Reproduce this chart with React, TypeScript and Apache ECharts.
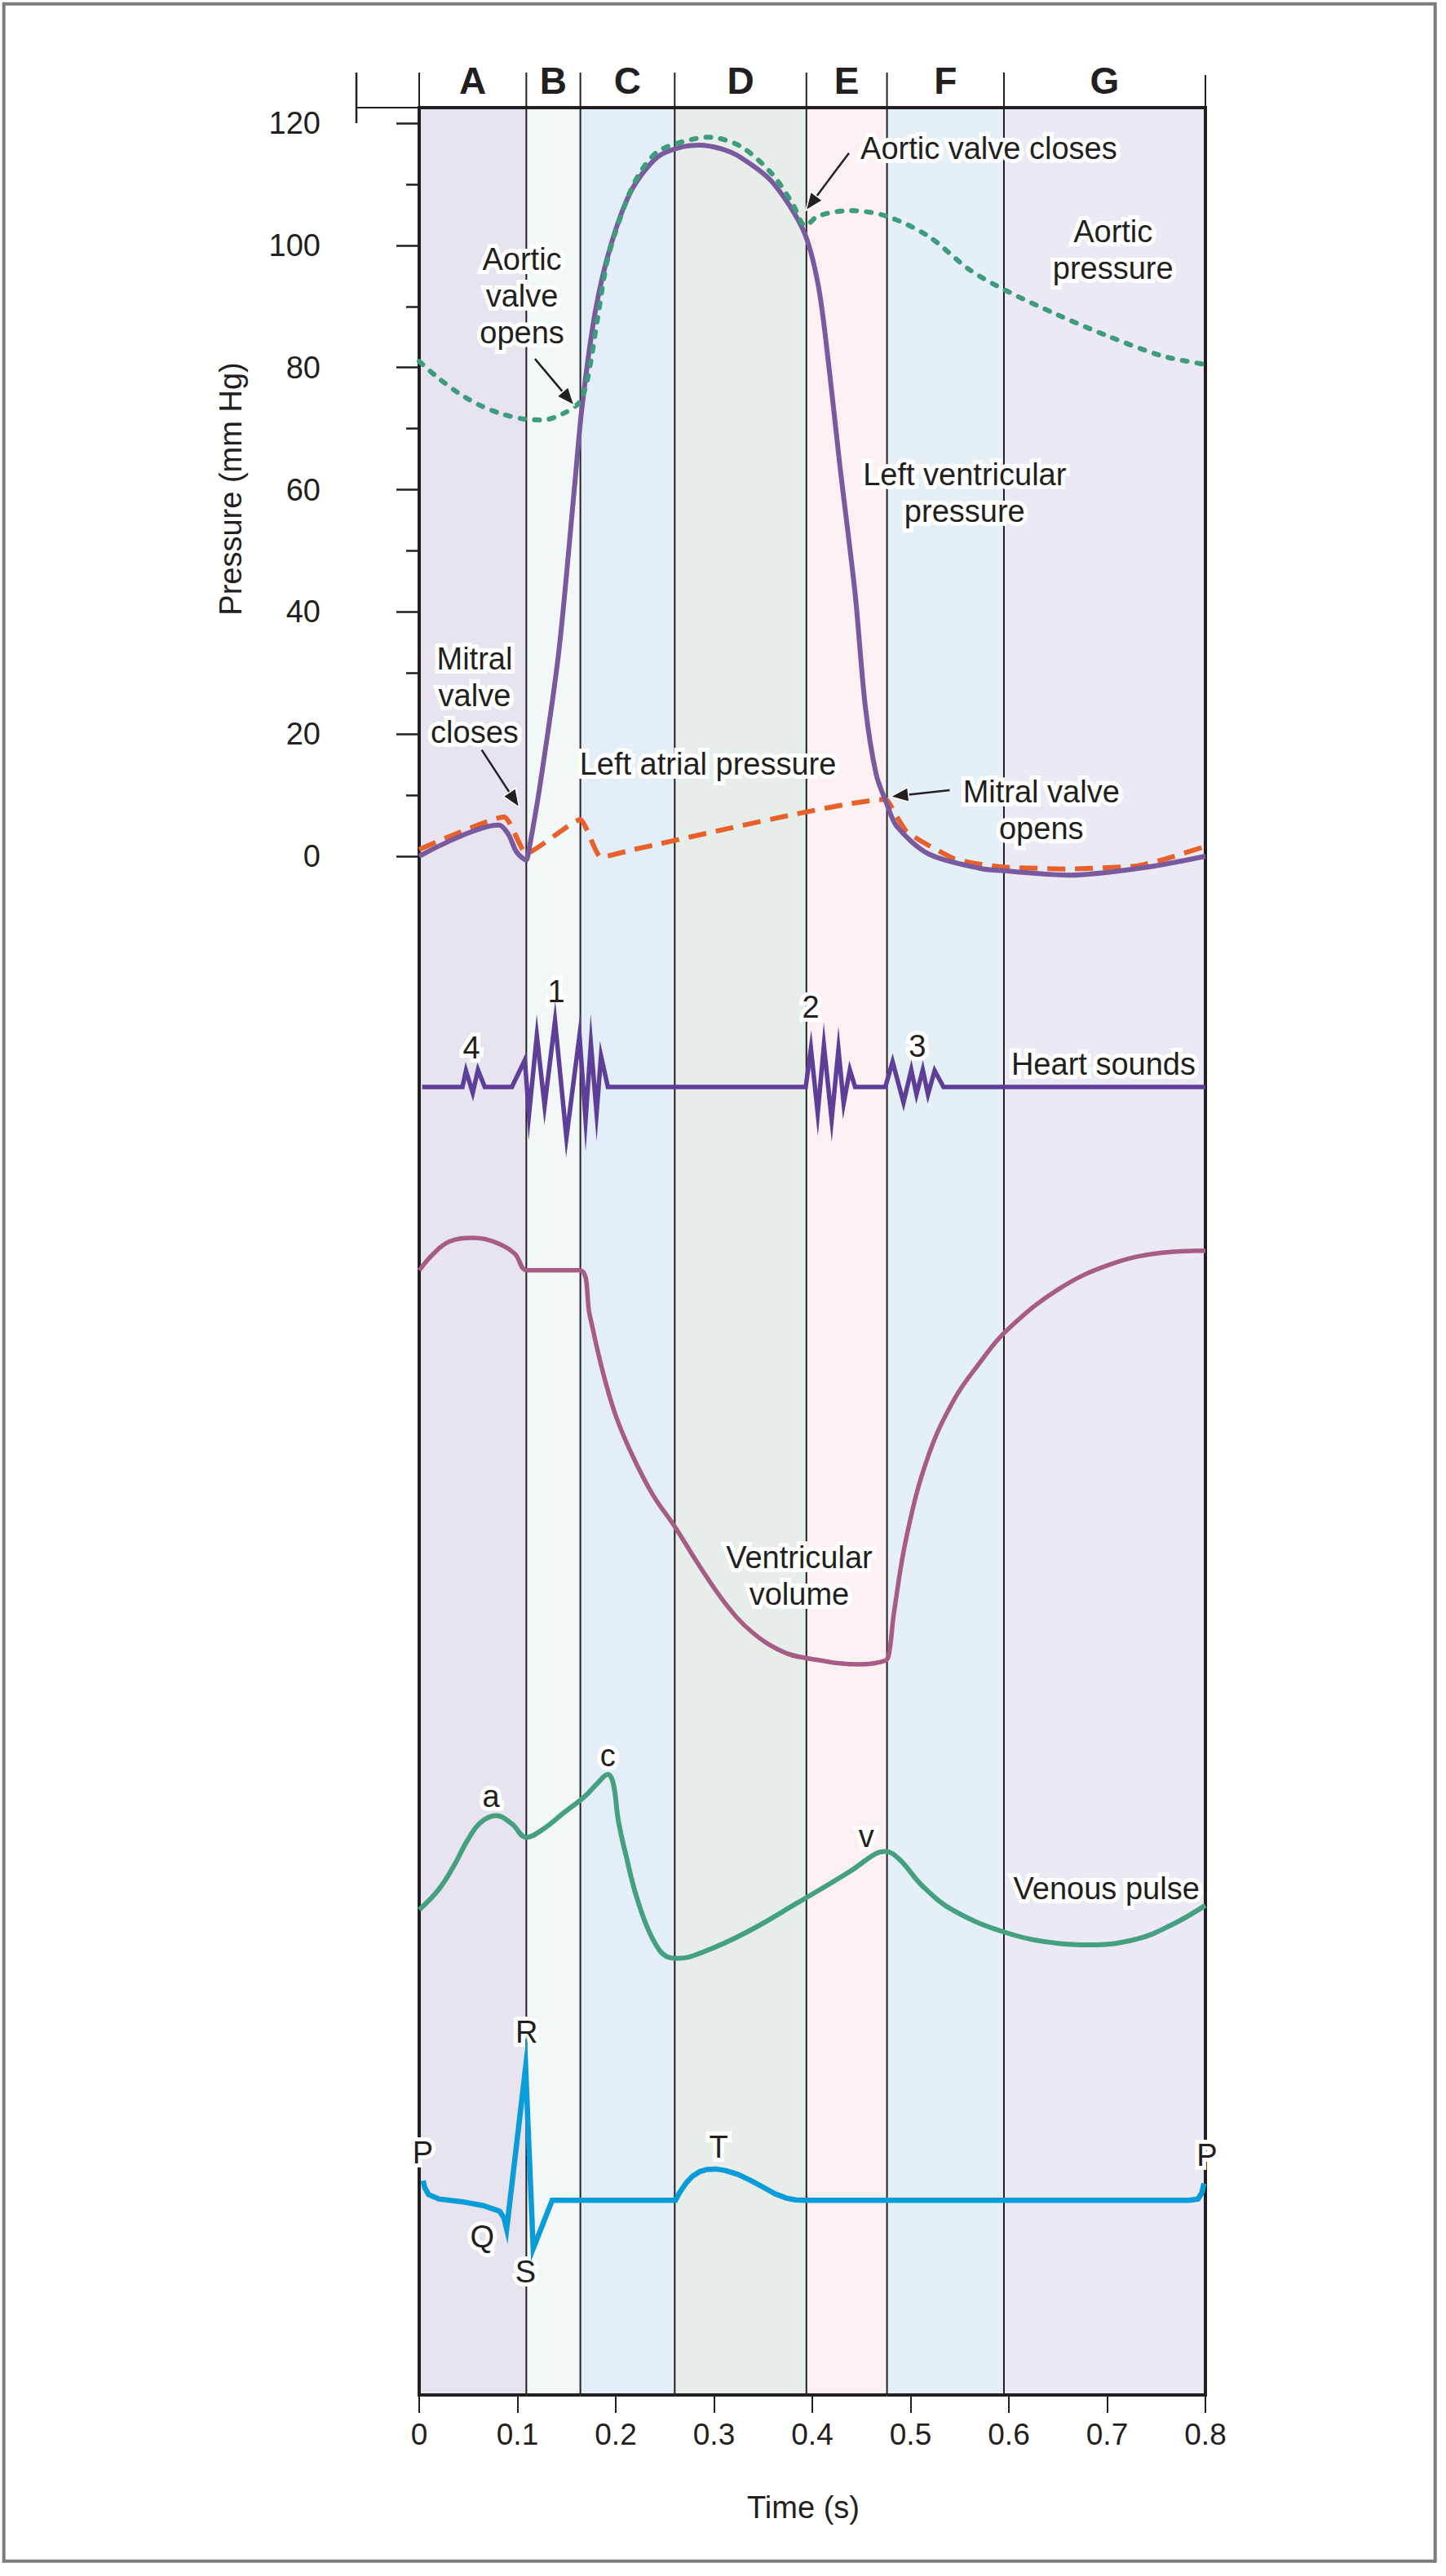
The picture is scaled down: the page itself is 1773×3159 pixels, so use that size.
import React, { useEffect, useRef } from "react";
import * as echarts from "echarts";

// ---------------- data ----------------
const phases = ["A", "B", "C", "D", "E", "F", "G"];
const phaseBounds = [0, 0.109, 0.164, 0.26, 0.394, 0.476, 0.595, 0.8];
const phaseColors = ["#E7E3EF", "#F2F7F7", "#E4EEF8", "#E7EEEA", "#FBF1F3", "#E4F0F5", "#EAE9F4"];

// pressures in mm Hg, time in s
const aorticPressure: number[][] = [
  [0, 81], [0.02, 78.2], [0.041, 75.7], [0.062, 73.8], [0.084, 72.4], [0.105, 71.6], [0.126, 71.4],
  [0.147, 72.5], [0.163, 74.3], [0.171, 77.9], [0.1816, 88.1], [0.192, 97.9], [0.2107, 107.2],
  [0.2239, 111.7], [0.2424, 115.3], [0.269, 117], [0.295, 117.7], [0.327, 116.2], [0.359, 111.7],
  [0.38, 106.8], [0.393, 103.2], [0.406, 104.8], [0.438, 105.7], [0.475, 104.8], [0.518, 101.5],
  [0.56, 96], [0.597, 92.6], [0.65, 88.6], [0.703, 85], [0.756, 81.9], [0.8, 80.5],
];
const leftVentricularPressure: number[][] = [
  [0, 0], [0.081, 5.1], [0.0907, 3.6], [0.099, 0.7], [0.1087, -0.6], [0.1115, 0.9], [0.1233, 12],
  [0.142, 33.4], [0.1578, 60], [0.1656, 73.4], [0.179, 89], [0.195, 100], [0.216, 109], [0.242, 114.4],
  [0.265, 116], [0.285, 116.4], [0.307, 115.8], [0.327, 114.4], [0.359, 110.4], [0.391, 102.4],
  [0.406, 93.5], [0.417, 80], [0.428, 64], [0.436, 53.4], [0.444, 42.3], [0.454, 24.4], [0.465, 13.4],
  [0.475, 8.9], [0.486, 4.9], [0.518, 0.4], [0.571, -2], [0.597, -2.4], [0.661, -3.1], [0.74, -1.8],
  [0.8, 0],
];
const leftAtrialPressure: number[][] = [
  [0, 1.1], [0.0866, 6.45], [0.109, 0.45], [0.164, 6], [0.1848, -0.2], [0.218, 1.1], [0.475, 9.3],
  [0.484, 7], [0.496, 4], [0.518, 1.8], [0.544, -0.4], [0.5705, -1.3], [0.597, -1.8], [0.661, -2.1],
  [0.73, -1.6], [0.756, -0.6], [0.8, 1.6],
];
// heart sound amplitude (relative units)
const heartSounds: number[][] = [
  [0.003, 0], [0.044, 0], [0.0476, 20], [0.0545, -7], [0.0598, 21], [0.0667, 0], [0.0943, 0],
  [0.1075, 33], [0.1117, -34], [0.1197, 63], [0.1276, -23], [0.1382, 81], [0.1498, -62], [0.1631, 63],
  [0.1693, -40], [0.1747, 53], [0.1805, -32], [0.185, 38], [0.192, 0], [0.3933, 0], [0.3986, 47],
  [0.4055, -32], [0.4118, 51], [0.4197, -40], [0.4266, 46], [0.4319, -20], [0.4382, 21], [0.4436, 0],
  [0.4743, 0], [0.4817, 31], [0.4928, -19], [0.5007, 21], [0.506, -9], [0.5124, 21], [0.5177, -9],
  [0.5245, 20], [0.5335, 0], [0.8, 0],
];
// ventricular volume (mL)
const ventricularVolume: number[][] = [
  [0, 123.9], [0.0149, 127.1], [0.0307, 129.3], [0.0545, 130], [0.0783, 129.1], [0.0969, 127.1],
  [0.11, 123.9], [0.163, 123.9], [0.1736, 115.4], [0.1869, 104.8], [0.2001, 96.6], [0.2159, 89.6],
  [0.2371, 82], [0.2609, 75.6], [0.2847, 68.6], [0.3112, 61.5], [0.3377, 56.2], [0.3695, 52.4],
  [0.3933, 51.2], [0.4488, 50], [0.4743, 50.7], [0.478, 51.9], [0.4832, 59.8], [0.4964, 74.4],
  [0.5177, 88.9], [0.5441, 99.6], [0.5705, 106.6], [0.597, 112.5], [0.65, 120.3], [0.703, 125],
  [0.7558, 127.2], [0.8, 127.6],
];
// venous pulse (relative units)
const venousPulse: number[][] = [
  [0, 3.9], [0.0202, 5.17], [0.036, 6.67], [0.0492, 8.17], [0.0625, 9.25], [0.0783, 9.67],
  [0.0943, 9.17], [0.109, 8.34], [0.126, 8.84], [0.147, 9.84], [0.1683, 10.84], [0.1816, 11.67],
  [0.192, 12.2], [0.1974, 11.67], [0.2027, 9.34], [0.2107, 7.17], [0.2213, 4.67], [0.2371, 2.17],
  [0.253, 1.0], [0.2636, 0.92], [0.29, 1.34], [0.3324, 2.5], [0.3853, 4.34], [0.4382, 6.25],
  [0.4647, 7.34], [0.4743, 7.47], [0.4885, 7.0], [0.5124, 5.34], [0.5441, 3.84], [0.597, 2.5],
  [0.65, 1.84], [0.6817, 1.75], [0.7294, 2.09], [0.7664, 3.0], [0.8, 4.17],
];
// ECG (mV)
const ecg: number[][] = [
  [0.004, 0.15], [0.0055, 0.1], [0.0095, 0.045], [0.02, 0.01], [0.043, -0.01], [0.065, -0.04],
  [0.0819, -0.084], [0.0863, -0.136], [0.089, -0.22], [0.1083, 1.02], [0.116, -0.37], [0.1353, 0],
  [0.2607, 0], [0.265, 0.06], [0.2718, 0.135], [0.278, 0.185], [0.2855, 0.22], [0.293, 0.237],
  [0.302, 0.24], [0.312, 0.228], [0.324, 0.2], [0.338, 0.15], [0.3516, 0.094], [0.362, 0.05],
  [0.3736, 0.017], [0.383, 0.004], [0.393, 0], [0.7837, 0], [0.7925, 0.01], [0.7965, 0.06],
  [0.7985, 0.13],
];

// annotation anchors: [gridIndex, time, value, text, align]
const annotations: [number, number, number, string, string][] = [
  [1, 0.449, 115.8, "Aortic valve closes", "left"],
  [1, 0.1046, 91.7, "Aortic\nvalve\nopens", "center"],
  [1, 0.706, 99.3, "Aortic\npressure", "center"],
  [1, 0.555, 59.4, "Left ventricular\npressure", "center"],
  [1, 0.0564, 26.3, "Mitral\nvalve\ncloses", "center"],
  [1, 0.2938, 15.1, "Left atrial pressure", "center"],
  [1, 0.633, 7.5, "Mitral valve\nopens", "center"],
  [2, 0.0531, 48, "4", "center"],
  [2, 0.1394, 117, "1", "center"],
  [2, 0.3983, 98, "2", "center"],
  [2, 0.507, 50, "3", "center"],
  [2, 0.79, 28, "Heart sounds", "right"],
  [3, 0.3867, 66.6, "Ventricular\nvolume", "center"],
  [4, 0.073, 10.85, "a", "center"],
  [4, 0.192, 13.35, "c", "center"],
  [4, 0.455, 8.4, "v", "center"],
  [4, 0.794, 5.2, "Venous pulse", "right"],
  [5, 0.0037, 0.364, "P", "center"],
  [5, 0.8017, 0.348, "P", "center"],
  [5, 0.1094, 1.29, "R", "center"],
  [5, 0.0642, -0.28, "Q", "center"],
  [5, 0.1083, -0.55, "S", "center"],
  [5, 0.3046, 0.408, "T", "center"],
];
// arrows in pressure coordinates: [fromT, fromP, toT, toP]
const arrows: number[][] = [
  [0.4373, 115.1, 0.3934, 105.7],
  [0.1178, 81.4, 0.1577, 73.8],
  [0.0636, 17.4, 0.1018, 8.0],
  [0.5398, 10.8, 0.4797, 9.75],
];

// ---------------- layout ----------------
const W = 1773;
const H = 3159;
const PLOT_L = 514;
const PLOT_W = 964;
const FRAME_T = 132;
const FRAME_H = 2805;
const AXIS_X = 437;
const INK = "#231F20";
const FONT = '"Liberation Sans", Arial, Helvetica, sans-serif';
const panels = [
  { top: FRAME_T, height: FRAME_H, min: 0, max: 1 },
  { top: 151, height: 899, min: 0, max: 120 },
  { top: 1233, height: 200, min: -100, max: 100 },
  { top: 1452.6, height: 653.8, min: 40, max: 140 },
  { top: 2100, height: 320, min: 0, max: 16 },
  { top: 2458.3, height: 400, min: -1, max: 1.5 },
];

function buildOption(): any {
  const grids = panels.map((p) => ({
    left: PLOT_L,
    width: PLOT_W,
    top: p.top,
    height: p.height,
    outerBoundsMode: "none",
    containLabel: false,
  }));
  const xAxes = panels.map((_, i) => ({
    type: "value",
    gridIndex: i,
    min: 0,
    max: 0.8,
    interval: 0.1,
    show: i === 0,
    position: "bottom",
    axisLine: { show: false },
    axisTick: { show: true, length: 22, inside: false, lineStyle: { color: INK, width: 2 } },
    axisLabel: {
      show: true,
      fontSize: 37,
      fontFamily: FONT,
      color: INK,
      margin: 30,
      showMinLabel: true,
      showMaxLabel: true,
    },
    splitLine: { show: false },
  }));
  const yAxes = panels.map((p, i) =>
    i === 1
      ? {
          type: "value",
          gridIndex: i,
          min: p.min,
          max: p.max,
          interval: 20,
          position: "left",
          offset: PLOT_L - AXIS_X,
          axisLine: { show: true, lineStyle: { color: INK, width: 2.5 } },
          axisTick: { show: true, length: 28, lineStyle: { color: INK, width: 2.5 } },
          minorTick: { show: true, splitNumber: 2, length: 16, lineStyle: { color: INK, width: 2.5 } },
          axisLabel: { fontSize: 38, fontFamily: FONT, color: INK, margin: 44 },
          splitLine: { show: false },
          minorSplitLine: { show: false },
        }
      : { type: "value", gridIndex: i, min: p.min, max: p.max, show: false, splitLine: { show: false } }
  );

  const bandData = phases.map((_, i) => [phaseBounds[i], phaseBounds[i + 1], i]);
  const last = phases.length - 1;

  const line = (
    g: number,
    data: number[][],
    color: string,
    width: number,
    z: number,
    smooth: number | boolean,
    type: any = "solid",
    cap = "butt"
  ) => ({
    type: "line",
    xAxisIndex: g,
    yAxisIndex: g,
    data,
    showSymbol: false,
    symbol: "none",
    smooth,
    z,
    clip: false,
    lineStyle: { color, width, type, cap, join: "miter", miterLimit: 20 },
    emphasis: { disabled: true },
  });

  return {
    animation: false,
    backgroundColor: "#ffffff",
    grid: grids,
    xAxis: xAxes,
    yAxis: yAxes,
    series: [
      {
        type: "custom",
        xAxisIndex: 0,
        yAxisIndex: 0,
        z: 0,
        clip: false,
        silent: true,
        data: bandData,
        encode: { x: [0, 1] },
        renderItem: (params: any, api: any) => {
          const s = api.value(0);
          const e = api.value(1);
          const i = api.value(2);
          const tl = api.coord([s, 1]);
          const br = api.coord([e, 0]);
          const children: any[] = [
            {
              type: "rect",
              shape: { x: tl[0], y: tl[1], width: br[0] - tl[0], height: br[1] - tl[1] },
              style: { fill: phaseColors[i] },
            },
            {
              type: "line",
              shape: { x1: tl[0], y1: tl[1] - 43, x2: tl[0], y2: tl[1] },
              style: { stroke: INK, lineWidth: 2 },
            },
            {
              type: "text",
              style: {
                text: phases[i],
                x: (tl[0] + br[0]) / 2,
                y: tl[1] - 33,
                align: "center",
                verticalAlign: "middle",
                fontSize: 46,
                fontWeight: "bold",
                fontFamily: FONT,
                fill: INK,
              },
            },
            {
              type: "line",
              shape: { x1: tl[0], y1: tl[1], x2: br[0], y2: tl[1] },
              style: { stroke: INK, lineWidth: 4 },
            },
            {
              type: "line",
              shape: { x1: tl[0], y1: br[1], x2: br[0], y2: br[1] },
              style: { stroke: INK, lineWidth: 4 },
            },
          ];
          if (i > 0) {
            children.push({
              type: "line",
              shape: { x1: tl[0], y1: tl[1], x2: tl[0], y2: br[1] },
              style: { stroke: INK, lineWidth: 2 },
            });
          } else {
            children.push({
              type: "line",
              shape: { x1: tl[0], y1: tl[1] - 2, x2: tl[0], y2: br[1] + 2 },
              style: { stroke: INK, lineWidth: 4 },
            });
          }
          if (i === last) {
            children.push({
              type: "line",
              shape: { x1: br[0], y1: tl[1] - 2, x2: br[0], y2: br[1] + 2 },
              style: { stroke: INK, lineWidth: 4 },
            });
            children.push({
              type: "line",
              shape: { x1: br[0], y1: tl[1] - 40, x2: br[0], y2: tl[1] },
              style: { stroke: INK, lineWidth: 2 },
            });
          }
          return { type: "group", children };
        },
      },
      line(1, leftAtrialPressure, "#E8602A", 6, 3, 0.15, [22, 12], "butt"),
      line(1, leftVentricularPressure, "#7A5A9F", 6, 4, 0.3),
      line(1, aorticPressure, "#3E9C7C", 6, 5, 0.3, [6, 12], "round"),
      line(2, heartSounds, "#5E3E97", 5.5, 3, false),
      line(3, ventricularVolume, "#A65C85", 5.5, 3, 0.4),
      line(4, venousPulse, "#45A07F", 6, 3, 0.4),
      line(5, ecg, "#0A9CD8", 6.5, 3, false),
    ],
  };
}

function buildGraphics(chart: any): any[] {
  const els: any[] = [];
  // outer gray border
  els.push({
    type: "rect",
    z: 30,
    shape: { x: 4.7, y: 4.7, width: 1755, height: 3136 },
    style: { fill: "none", stroke: "#7B7B7B", lineWidth: 4 },
  });
  // y-axis extension and header base
  const yTop = chart.convertToPixel({ gridIndex: 1 }, [0, 120])[1];
  els.push({
    type: "line",
    z: 6,
    shape: { x1: AXIS_X, y1: FRAME_T - 43, x2: AXIS_X, y2: yTop },
    style: { stroke: INK, lineWidth: 2.5 },
  });
  els.push({
    type: "line",
    z: 6,
    shape: { x1: AXIS_X, y1: FRAME_T, x2: PLOT_L, y2: FRAME_T },
    style: { stroke: INK, lineWidth: 2 },
  });
  // axis titles
  const mid = chart.convertToPixel({ gridIndex: 1 }, [0, 60]);
  els.push({
    type: "text",
    z: 20,
    x: 283,
    y: mid[1] - 1,
    rotation: Math.PI / 2,
    style: {
      text: "Pressure (mm Hg)",
      align: "center",
      verticalAlign: "middle",
      fontSize: 38,
      fontFamily: FONT,
      fill: INK,
    },
  });
  els.push({
    type: "text",
    z: 20,
    style: {
      text: "Time (s)",
      x: 985,
      y: 3075,
      align: "center",
      verticalAlign: "middle",
      fontSize: 38,
      fontFamily: FONT,
      fill: INK,
    },
  });
  // annotations
  annotations.forEach(([g, t, v, text, align]) => {
    const [x, y] = chart.convertToPixel({ gridIndex: g }, [t, v]);
    const base = {
      text,
      x,
      y,
      align,
      verticalAlign: "middle",
      fontSize: 38,
      fontFamily: FONT,
      lineHeight: 45,
    };
    els.push({
      type: "text",
      z: 1,
      silent: true,
      style: { ...base, fill: "#ffffff", stroke: "#ffffff", lineWidth: 10, lineJoin: "round" },
    });
    els.push({ type: "text", z: 20, silent: true, style: { ...base, fill: INK } });
  });
  // arrows
  arrows.forEach(([t1, p1, t2, p2]) => {
    const a = chart.convertToPixel({ gridIndex: 1 }, [t1, p1]);
    const b = chart.convertToPixel({ gridIndex: 1 }, [t2, p2]);
    const dx = b[0] - a[0];
    const dy = b[1] - a[1];
    const len = Math.sqrt(dx * dx + dy * dy);
    const ux = dx / len;
    const uy = dy / len;
    const L = 22;
    const hw = 9;
    const bx = b[0] - ux * L;
    const by = b[1] - uy * L;
    els.push({
      type: "line",
      z: 20,
      shape: { x1: a[0], y1: a[1], x2: bx + ux * 2, y2: by + uy * 2 },
      style: { stroke: INK, lineWidth: 2.5 },
    });
    els.push({
      type: "polygon",
      z: 20,
      shape: {
        points: [
          [b[0], b[1]],
          [bx - uy * hw, by + ux * hw],
          [bx + uy * hw, by - ux * hw],
        ],
      },
      style: { fill: INK, stroke: "#ffffff", lineWidth: 1.5 },
    });
  });
  return els;
}

export default function App() {
  const ref = useRef<HTMLDivElement>(null);
  useEffect(() => {
    if (!ref.current) return;
    const chart = echarts.init(ref.current, null, { renderer: "svg" });
    chart.setOption(buildOption());
    chart.setOption({ graphic: { elements: buildGraphics(chart) } });
    return () => chart.dispose();
  }, []);
  return (
    <div
      ref={ref}
      style={{ position: "absolute", left: 0, top: 0, width: W, height: H, background: "#ffffff" }}
    />
  );
}
